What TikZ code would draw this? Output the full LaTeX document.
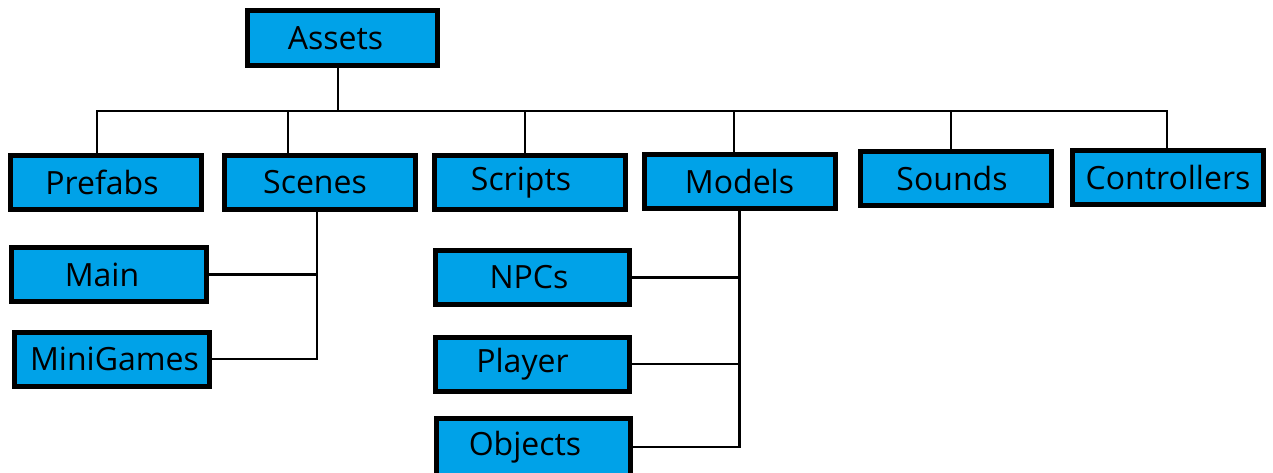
\documentclass[tikz,border=0pt]{standalone}
\usepackage{fontspec}
\setmainfont{Open Sans}
\definecolor{boxblue}{RGB}{0,162,232}
\newcommand{\sh}[2]{\hspace*{#1}#2}
\begin{document}
\begin{tikzpicture}[x=1pt,y=-1pt,
  box/.style={draw=black, fill=boxblue, line width=5pt, minimum width=191pt, minimum height=54pt,
    inner sep=0pt, font=\fontsize{32}{38}\selectfont, text=black},
  conn/.style={line width=2.6pt, draw=black}]
\clip (0,0) rectangle (1273,472);
\fill[white] (0,0) rectangle (1273,472);
\node[box, minimum width=190pt, minimum height=55pt] (assets) at (342.5,38) {\sh{-14pt}{Assets}};
\node[box] (prefabs) at (106,182.5) {\sh{-8pt}{Prefabs}};
\node[box] (scenes) at (319.5,182.5) {\sh{-9pt}{Scenes}};
\node[box] (scripts) at (530,182.5) {\sh{-18pt}{Scripts}};
\node[box] (models) at (739.5,181.5) {Models};
\node[box] (sounds) at (955.5,178.5) {\sh{-7pt}{Sounds}};
\node[box] (controllers) at (1168,177.5) {Controllers};
\node[box, minimum width=195pt] (main) at (109,274.5) {\sh{-14pt}{\raisebox{-2pt}{Main}}};
\node[box, minimum width=195pt] (minigames) at (112,359) {\sh{5pt}{MiniGames}};
\node[box, minimum width=194pt] (npcs) at (532.5,277.5) {\sh{-7pt}{NPCs}};
\node[box, minimum width=194pt] (player) at (532.5,364) {\sh{-20pt}{Player}};
\node[box, minimum width=194pt, minimum height=57pt] (objects) at (533.5,447) {\sh{-17pt}{Objects}};
\coordinate (bus) at (338,111);
\coordinate (scstem) at ([xshift=-2.5pt]scenes.south);
\draw[conn] ([xshift=-4.5pt]assets.south) -- (bus);
\draw[conn] ([xshift=-9pt]prefabs.north) |- (bus) -| ([xshift=-1pt]controllers.north);
\draw[conn] ([xshift=-31.5pt]scenes.north) -- ([xshift=-31.5pt]scenes.north |- bus);
\draw[conn] ([xshift=-5pt]scripts.north) -- ([xshift=-5pt]scripts.north |- bus);
\draw[conn] ([xshift=-5.5pt]models.north) -- ([xshift=-5.5pt]models.north |- bus);
\draw[conn] ([xshift=-4.5pt]sounds.north) -- ([xshift=-4.5pt]sounds.north |- bus);
\draw[conn] (scstem) |- (minigames.east);
\draw[conn] (main.east) -- (main.east -| scstem);
\draw[conn] (models.south) |- (objects.east);
\draw[conn] (npcs.east) -- (npcs.east -| models.south);
\draw[conn] (player.east) -- (player.east -| models.south);
\end{tikzpicture}
\end{document}
